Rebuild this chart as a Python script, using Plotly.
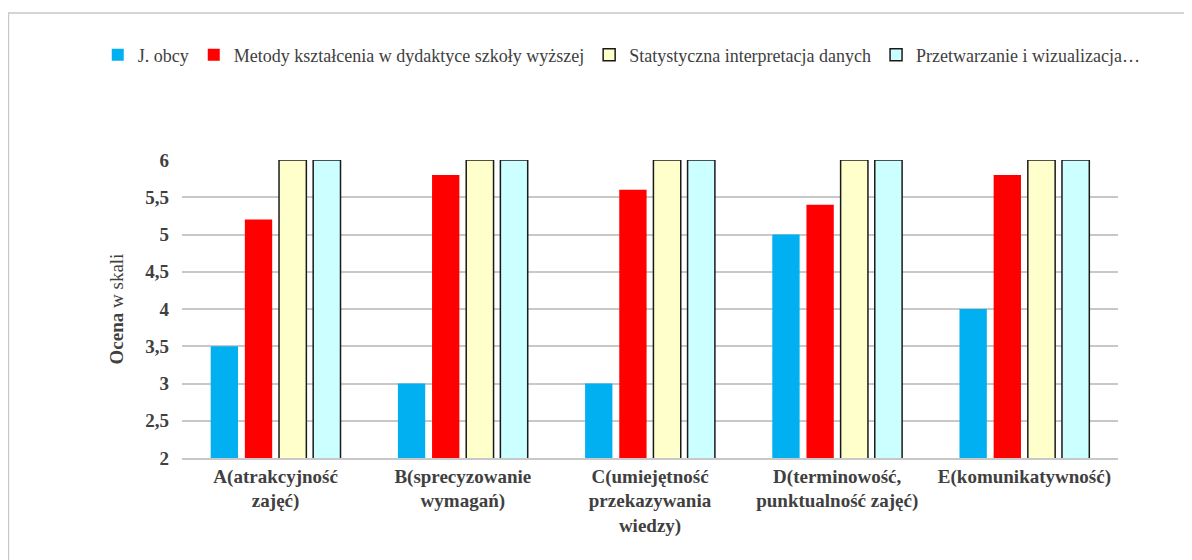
import plotly.graph_objects as go

categories = [
    "A(atrakcyjność<br>zajęć)",
    "B(sprecyzowanie<br>wymagań)",
    "C(umiejętność<br>przekazywania<br>wiedzy)",
    "D(terminowość,<br>punktualność zajęć)",
    "E(komunikatywność)",
]
series_names = [
    "J. obcy",
    "Metody kształcenia w dydaktyce szkoły wyższej",
    "Statystyczna interpretacja danych",
    "Przetwarzanie i wizualizacja…",
]
j_obcy = [3.5, 3.0, 3.0, 5.0, 4.0]
metody = [5.2, 5.8, 5.6, 5.4, 5.8]
statystyczna = [6, 6, 6, 6, 6]
przetwarzanie = [6, 6, 6, 6, 6]
tick_vals = [2, 2.5, 3, 3.5, 4, 4.5, 5, 5.5, 6]
tick_text = ["2", "2,5", "3", "3,5", "4", "4,5", "5", "5,5", "6"]

colors = ["#00B0F0", "#FF0000", "#FFFFCC", "#CCFFFF"]
line_w = [0, 0, 1.5, 1.5]
values = [j_obcy, metody, statystyczna, przetwarzanie]

FONT = "Liberation Serif, Times New Roman, serif"
fig = go.Figure()
for name, vals, col, lw in zip(series_names, values, colors, line_w):
    fig.add_trace(go.Bar(
        x=categories, y=vals, name=name,
        marker=dict(color=col, line=dict(color="#1a1a1a", width=lw)),
    ))

fig.update_layout(
    width=1184, height=552,
    paper_bgcolor="white", plot_bgcolor="white",
    margin=dict(l=174, r=74, t=152, b=102),
    barmode="group", bargap=0.27, bargroupgap=0.2,
    font=dict(family=FONT, color="#404040", size=18),
    legend=dict(orientation="h", xref="paper", yref="paper",
                x=-0.09, xanchor="left", y=(450 - 47) / 298, yanchor="middle",
                font=dict(family=FONT, size=18, color="#404040"),
                itemwidth=30, traceorder="normal"),
    yaxis=dict(range=[2, 6], tickvals=tick_vals, ticktext=tick_text,
               showgrid=True, gridcolor="#c8c8c8", gridwidth=1.5,
               zeroline=False, showline=False, ticks="", ticklabelstandoff=12,
               tickfont=dict(family=FONT, size=19, color="#404040", weight="bold"),
               title=dict(text="<b>Ocena</b> w skali", font=dict(family=FONT, size=19, color="#404040"),
                          standoff=16)),
    xaxis=dict(showline=True, linecolor="#c8c8c8", linewidth=1.5, ticks="",
               tickfont=dict(family=FONT, size=19, color="#404040", weight="bold"),
               tickangle=0),
    shapes=[dict(type="rect", xref="paper", yref="paper",
                 x0=-0.1854, x1=1.2, y0=-0.5, y1=1.493,
                 line=dict(color="#c8c8c8", width=1.5), layer="below")],
)

fig.write_html("out.html")
